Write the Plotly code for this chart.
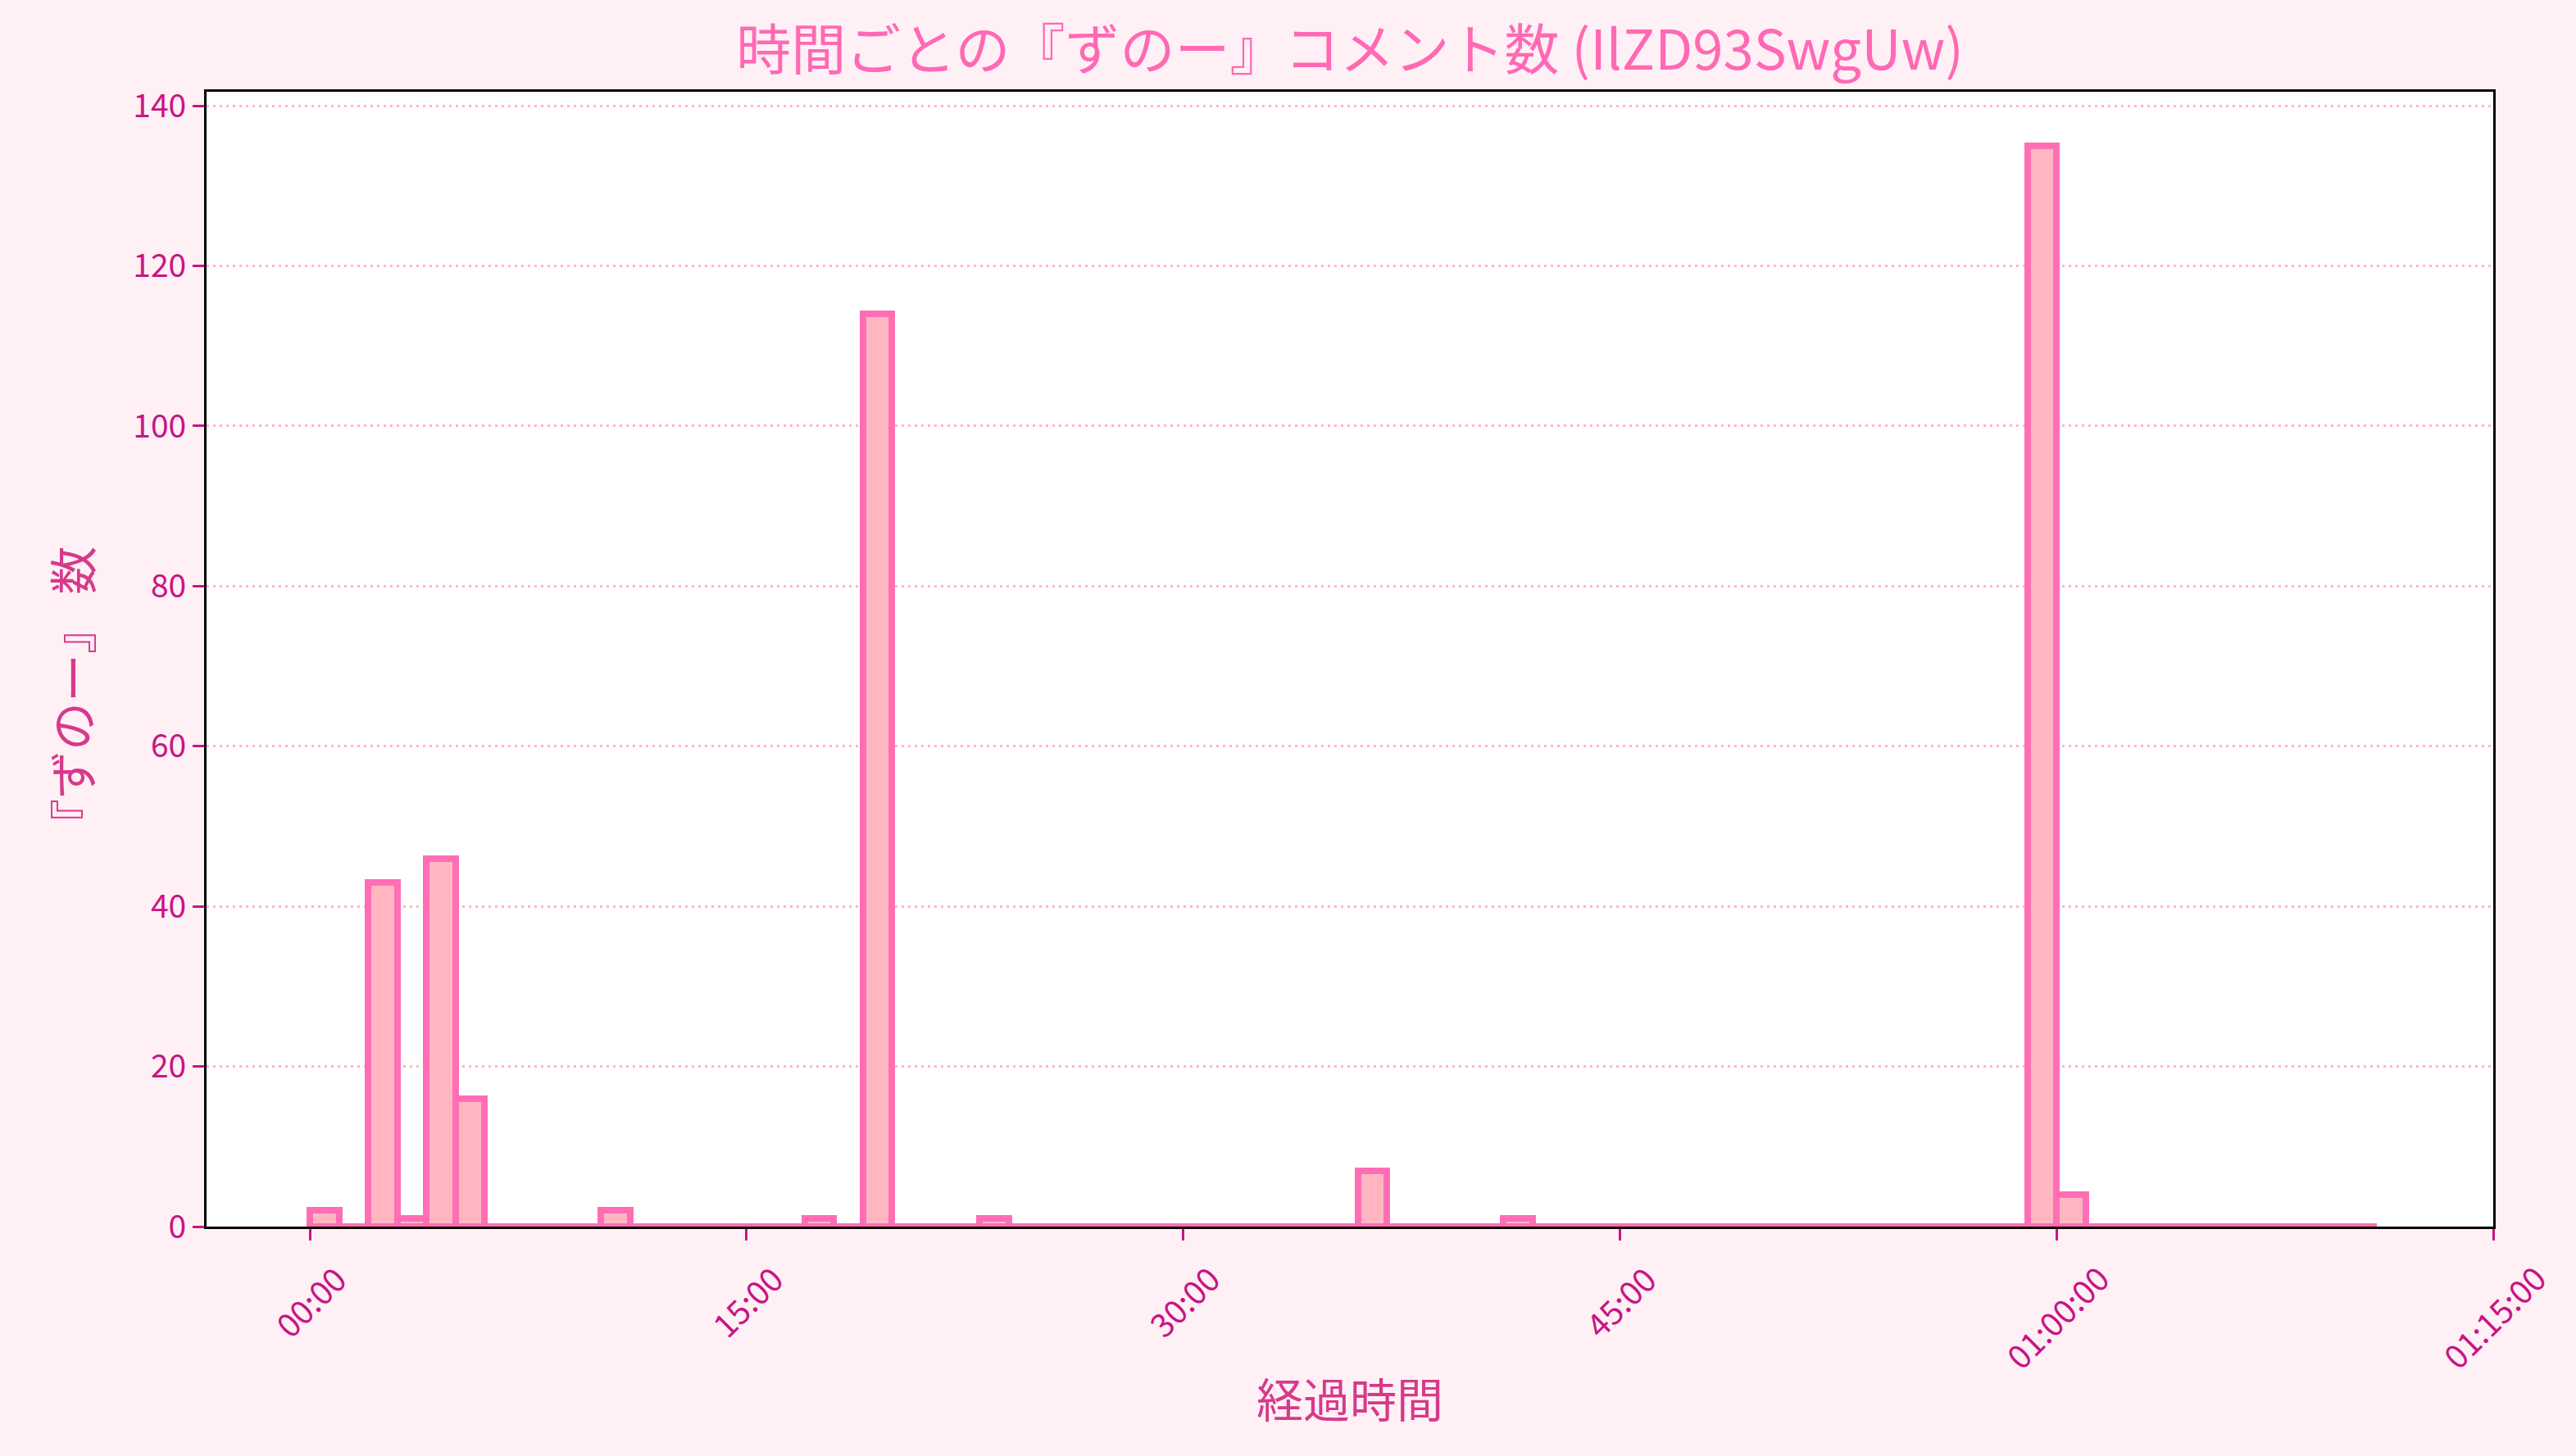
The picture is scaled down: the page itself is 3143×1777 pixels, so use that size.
import plotly.graph_objects as go

# ---- data ----
bin_width_min = 1
# counts per 1-minute bin, minutes 0..70
comment_counts = [
    2, 0, 43, 1, 46, 16, 0, 0, 0, 0,      # 0-9
    2, 0, 0, 0, 0, 0, 0, 1, 0, 114,      # 10-19
    0, 0, 0, 1, 0, 0, 0, 0, 0, 0,        # 20-29
    0, 0, 0, 0, 0, 0, 7, 0, 0, 0,        # 30-39
    0, 1, 0, 0, 0, 0, 0, 0, 0, 0,        # 40-49
    0, 0, 0, 0, 0, 0, 0, 0, 0, 135,      # 50-59
    4, 0, 0, 0, 0, 0, 0, 0, 0, 0,        # 60-69
    0,                                   # 70
]
bin_starts = [i * bin_width_min for i in range(len(comment_counts))]
bin_edges = bin_starts + [bin_starts[-1] + bin_width_min]

x_tick_vals = [0, 15, 30, 45, 60, 75]
x_tick_labels = ["00:00", "15:00", "30:00", "45:00", "01:00:00", "01:15:00"]
y_tick_vals = [0, 20, 40, 60, 80, 100, 120, 140]

title_text = "時間ごとの『ずのー』コメント数 (IlZD93SwgUw)"
x_title = "経過時間"
y_title = "『ずのー』 数"

# ---- styles ----
FONT = "Noto Sans CJK JP"
BG = "#FFF0F5"
TITLE_C = "#FF69B4"
LABEL_C = "#D63A8A"
TICK_C = "#C71585"
EDGE_C = "#FF6EB4"
FILL_C = "#FFB6C1"

fig = go.Figure()

# zero-height bins drawn as a flat edge line (as the histogram does)
fig.add_trace(go.Scatter(
    x=[bin_edges[0], bin_edges[-1]], y=[0, 0], mode="lines",
    line=dict(color=EDGE_C, width=8), hoverinfo="skip", showlegend=False,
))

fig.add_trace(go.Bar(
    x=bin_starts, y=comment_counts, width=bin_width_min, offset=0,
    marker=dict(color=FILL_C, line=dict(color=EDGE_C, width=8)),
    showlegend=False,
))

W, H = 3143, 1777
ml, mr, mt, mb = 252, 101, 112, 280
plot_w = W - ml - mr
plot_h = H - mt - mb

fig.update_layout(
    width=W, height=H, autosize=False,
    margin=dict(l=ml, r=mr, t=mt, b=mb),
    paper_bgcolor=BG, plot_bgcolor="white",
    font=dict(family=FONT, color=TICK_C),
    bargap=0,
    title=dict(text=title_text, x=0.5, xref="paper", xanchor="center",
               y=1 - 62 / H, yref="container", yanchor="middle",
               font=dict(family=FONT, size=67, color=TITLE_C)),
)

fig.update_xaxes(
    range=[-3.55, 75.0], tickvals=x_tick_vals, showticklabels=False,
    ticks="outside", ticklen=14, tickwidth=3, tickcolor=TICK_C,
    showline=True, linecolor="black", linewidth=3, mirror=True,
    showgrid=False, zeroline=False,
    title=dict(text=x_title, font=dict(family=FONT, size=57, color=LABEL_C), standoff=178),
)
fig.update_yaxes(
    range=[0, 141.75], tickvals=y_tick_vals,
    ticks="outside", ticklen=14, tickwidth=3, tickcolor=TICK_C,
    tickfont=dict(family=FONT, size=39, color=TICK_C),
    showline=True, linecolor="black", linewidth=3, mirror=True,
    showgrid=True, gridcolor=FILL_C, gridwidth=3, griddash="3px,5px",
    zeroline=False,
)

# y-axis title
fig.add_annotation(
    x=(86 - ml) / plot_w, xref="paper", y=(1497 - 851) / plot_h, yref="paper",
    text=y_title, showarrow=False, textangle=-90,
    xanchor="center", yanchor="middle",
    font=dict(family=FONT, size=59, color=LABEL_C),
)

# rotated x tick labels, centred under each tick
for v, lab in zip(x_tick_vals, x_tick_labels):
    fig.add_annotation(
        x=v, xref="x", y=-32 / plot_h, yref="paper",
        text=lab, showarrow=False, textangle=-45,
        xanchor="center", yanchor="top",
        font=dict(family=FONT, size=40, color=TICK_C),
    )

fig.write_html(
    "out.html",
    config={"displayModeBar": False},
    post_script="document.body.style.margin='0';document.body.style.padding='0';",
)
